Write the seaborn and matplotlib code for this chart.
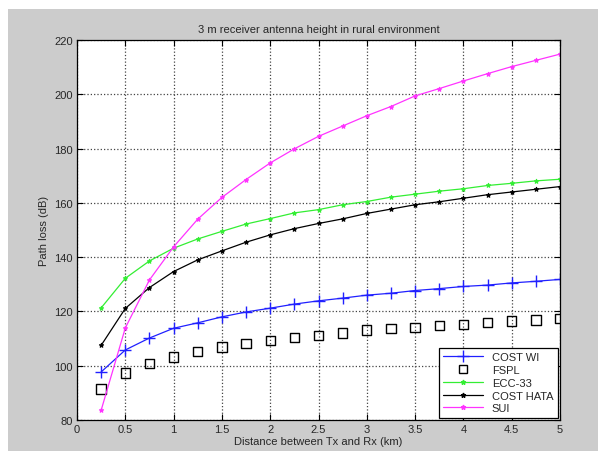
import pandas as pd
import matplotlib
matplotlib.use('Agg')
import matplotlib.pyplot as plt
import numpy as np
import seaborn as sns
from matplotlib.lines import Line2D
from matplotlib.patches import Rectangle

# distance in km
distance = [0.25, 0.5, 0.75, 1.0, 1.25, 1.5, 1.75, 2.0, 2.25, 2.5,
            2.75, 3.0, 3.25, 3.5, 3.75, 4.0, 4.25, 4.5, 4.75, 5.0]

cost_wi = [97.7, 105.8, 110.2, 113.8, 115.8, 118.0, 119.8, 121.2, 122.7, 123.9,
           124.9, 126.0, 126.7, 127.7, 128.4, 129.2, 129.7, 130.5, 131.1, 131.8]
fspl = [91.4, 97.3, 100.9, 103.2, 105.2, 106.9, 108.1, 109.2, 110.3, 111.2,
        112.1, 113.2, 113.6, 114.2, 114.7, 115.3, 115.8, 116.5, 116.8, 117.4]
ecc33 = [121.3, 132.2, 138.6, 143.3, 146.7, 149.5, 152.2, 154.2, 156.3, 157.5,
         159.3, 160.5, 162.1, 163.2, 164.3, 165.2, 166.4, 167.2, 168.1, 168.7]
cost_hata = [107.5, 121.1, 128.8, 134.7, 139.0, 142.3, 145.5, 148.2, 150.5, 152.4,
             154.1, 156.1, 157.7, 159.3, 160.4, 161.7, 163.0, 164.0, 165.0, 166.0]
sui = [83.6, 113.9, 131.6, 143.8, 154.0, 162.0, 168.6, 174.7, 179.9, 184.5,
       188.3, 192.1, 195.5, 199.4, 202.1, 204.9, 207.6, 210.2, 212.5, 214.8]

labels = ['COST WI', 'FSPL', 'ECC-33', 'COST HATA', 'SUI']
c_blue, c_green, c_black, c_mag = '#2020ff', '#33ee33', 'black', '#ff33ff'

sns.set_style('white')
plt.rcParams['font.family'] = ['Liberation Sans', 'DejaVu Sans']

fig = plt.figure(figsize=(5.98, 4.52), dpi=100, facecolor='white')
# gray matlab window background
fig.patches.append(Rectangle((8 / 598, 0), 1, 1 - 10 / 452, transform=fig.transFigure,
                             facecolor='#cccccc', edgecolor='none', zorder=-10))
ax = fig.add_axes([77 / 598, 1 - 421 / 452, 483 / 598, 380 / 452])
ax.set_facecolor('white')

sns.lineplot(x=distance, y=cost_wi, ax=ax, color=c_blue, marker='+', markersize=8,
             markeredgecolor=c_blue, markeredgewidth=1.0, linewidth=0.9, sort=False)
sns.scatterplot(x=distance, y=fspl, ax=ax, marker='s', s=45, facecolor='none',
                edgecolor='black', linewidth=1.0)
for vals, col in [(ecc33, c_green), (cost_hata, c_black), (sui, c_mag)]:
    sns.lineplot(x=distance, y=vals, ax=ax, color=col, marker='*', markersize=3.5,
                 markeredgecolor=col, markerfacecolor=col, markeredgewidth=0.7,
                 linewidth=0.9, sort=False)

ax.set_xlim(0, 5)
ax.set_ylim(80, 220)
ax.set_xticks(np.arange(0, 5.01, 0.5))
ax.set_xticklabels(['0', '0.5', '1', '1.5', '2', '2.5', '3', '3.5', '4', '4.5', '5'])
ax.set_yticks(np.arange(80, 221, 20))
ax.grid(True, linestyle=':', color='#444444', linewidth=0.9)
ax.tick_params(direction='in', length=4, labelsize=8, color='black', top=True, right=True,
               bottom=True, left=True, pad=3)
for s in ax.spines.values():
    s.set_color('black')
    s.set_linewidth(0.9)

ax.set_title('3 m receiver antenna height in rural environment', fontsize=8, pad=6)
ax.set_xlabel('Distance between Tx and Rx (km)', fontsize=8, labelpad=1)
ax.set_ylabel('Path loss (dB)', fontsize=8, labelpad=4)

handles = [
    Line2D([], [], color=c_blue, marker='+', markersize=8, linewidth=0.9),
    Line2D([], [], color='black', marker='s', markersize=6, markerfacecolor='none', linestyle='none'),
    Line2D([], [], color=c_green, marker='*', markersize=3.5, linewidth=0.9),
    Line2D([], [], color=c_black, marker='*', markersize=3.5, linewidth=0.9),
    Line2D([], [], color=c_mag, marker='*', markersize=3.5, linewidth=0.9),
]
leg = ax.legend(handles, labels, loc='lower right', fontsize=8, frameon=True, fancybox=False,
                framealpha=1, edgecolor='black', borderaxespad=0.2, handlelength=3.6,
                labelspacing=0.25, borderpad=0.4)
leg.get_frame().set_linewidth(0.9)

fig.savefig('out.png', dpi=100, facecolor=fig.get_facecolor())
